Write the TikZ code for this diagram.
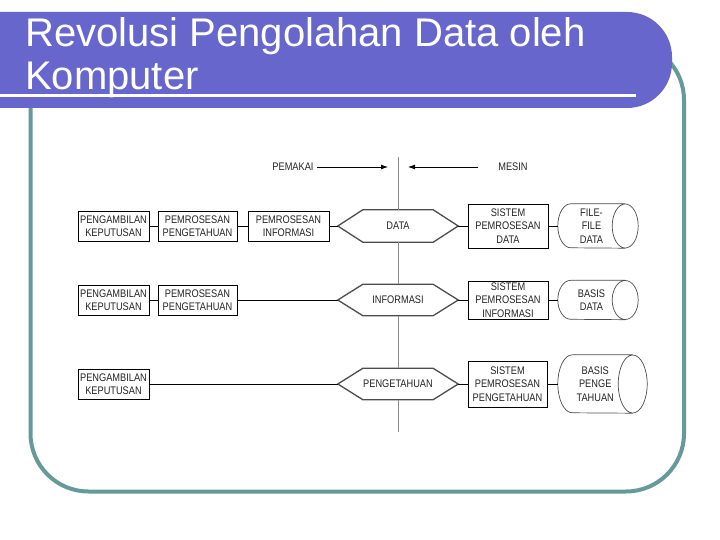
\documentclass[tikz,border=0pt]{standalone}
\usepackage{fontspec}
\setmainfont{Liberation Sans}
\newfontfamily\diagfont[FakeStretch=0.84]{Liberation Sans}
\usetikzlibrary{arrows.meta}

\definecolor{bannerblue}{RGB}{102,102,204}
\definecolor{frameteal}{RGB}{102,153,153}
\definecolor{inkgray}{RGB}{35,35,35}

\tikzset{
	box/.style={draw=black, line width=0.8pt, align=center, inner sep=1pt, text=inkgray, font=\diagfont\fontsize{11}{13.5}\selectfont},
	hexnode/.style={minimum width=120pt, inner sep=0pt, text=inkgray, font=\diagfont\fontsize{11}{13.5}\selectfont},
	hexline/.style={draw=black!70, line width=1.3pt},
	store/.style={align=center, inner sep=0pt, text=inkgray, font=\diagfont\fontsize{11}{13.5}\selectfont},
	storeline/.style={draw=black!70, line width=0.7pt},
	link/.style={draw=black, line width=0.8pt},
	divider/.style={draw=black!45, line width=0.8pt},
	arr/.style={-{Latex[length=7pt,width=5pt]}, line width=0.8pt},
	label/.style={text=inkgray, font=\diagfont\fontsize{11}{13.5}\selectfont}
}

\begin{document}
\begin{tikzpicture}[x=1pt, y=-1pt]
	\useasboundingbox (0,0) rectangle (720,540);
	% frame and title banner
	\draw[frameteal, line width=4pt, rounded corners=58pt] (30.5,42) rectangle (684,491.5);
	\fill[bannerblue] (0,12) [rounded corners=45pt] -- (672,12) -- (672,108) [sharp corners] -- (0,108) -- cycle;
	\draw[white, line width=3pt] (0,95.5) -- (636,95.5);
	\node[anchor=base west, inner sep=0pt, text=white, font=\fontsize{40}{40}\selectfont] (t1) at (25,47) {Revolusi Pengolahan Data oleh};
	\node[anchor=base west, inner sep=0pt, text=white, font=\fontsize{40}{40}\selectfont] (t2) at (25,90) {Komputer};

	% pemakai / mesin
	\node[label] (pemakai) at (293,167) {PEMAKAI};
	\node[label] (mesin) at (513,167) {MESIN};
	\coordinate (gl) at (388,167);
	\coordinate (gr) at (408,167);
	\coordinate (ms) at (478,167);
	\draw[arr] (pemakai) -- (gl);
	\draw[arr] (ms) -- (gr);

	% baris data
	\node[box, minimum width=71pt, minimum height=30pt] (k1) at (113.5,226) {PENGAMBILAN\\KEPUTUSAN};
	\node[box, minimum width=79pt, minimum height=30pt] (p1) at (197.5,226) {PEMROSESAN\\PENGETAHUAN};
	\node[box, minimum width=81pt, minimum height=30pt] (i1) at (288.5,226) {PEMROSESAN\\INFORMASI};
	\node[hexnode, minimum height=32pt] (hd) at (398,226) {DATA};
	\node[box, minimum width=80pt, minimum height=44pt] (s1) at (508,226) {SISTEM\\PEMROSESAN\\DATA};
	\node[store, minimum width=67pt, minimum height=44pt] (c1) at (591.5,226) {FILE-\\FILE\\DATA};

	% baris informasi
	\node[box, minimum width=71pt, minimum height=30pt] (k2) at (113.5,300) {PENGAMBILAN\\KEPUTUSAN};
	\node[box, minimum width=79pt, minimum height=30pt] (p2) at (197.5,300) {PEMROSESAN\\PENGETAHUAN};
	\node[hexnode, minimum height=31pt] (hi) at (398,300) {INFORMASI};
	\node[box, minimum width=80pt, minimum height=38pt] (s2) at (508,300) {SISTEM\\PEMROSESAN\\INFORMASI};
	\node[store, minimum width=67pt, minimum height=39pt] (c2) at (591.5,300) {BASIS\\DATA};

	% baris pengetahuan
	\node[box, minimum width=71pt, minimum height=30pt] (k3) at (113.5,384) {PENGAMBILAN\\KEPUTUSAN};
	\node[hexnode, minimum height=31pt] (hp) at (398,384) {PENGETAHUAN};
	\node[box, minimum width=79pt, minimum height=46pt] (s3) at (507.5,384) {SISTEM\\PEMROSESAN\\PENGETAHUAN};
	\node[store, minimum width=74.5pt, minimum height=58pt] (c3) at (595.25,384) {BASIS\\PENGE\\TAHUAN};

	\foreach \h in {hd,hi,hp}
		\draw[hexline] (\h.west) -- ([xshift=25pt]\h.north west) -- ([xshift=-25pt]\h.north east) -- (\h.east) -- ([xshift=-25pt]\h.south east) -- ([xshift=25pt]\h.south west) -- cycle;

	\foreach \c/\rx/\ry in {c1/13/22, c2/13/19.5, c3/14.5/29}
		\draw[storeline] (\c.north east) -- ([xshift=\rx pt]\c.north west) arc[start angle=90, end angle=270, x radius=\rx pt, y radius=\ry pt] -- (\c.south east)
			(\c.east) ellipse[x radius=\rx pt, y radius=\ry pt];

	% garis
	\coordinate (top) at (398,157);
	\coordinate (bot) at (398,432);
	\draw[divider] (top) -- (hd) (hd) -- (hi) (hi) -- (hp) (hp) -- (bot);
	\draw[link] (k1) -- (p1) (p1) -- (i1) (i1) -- (hd) (hd) -- (s1) (s1) -- (c1);
	\draw[link] (k2) -- (p2) (p2) -- (hi) (hi) -- (s2) (s2) -- (c2);
	\draw[link] (k3) -- (hp) (hp) -- (s3) (s3) -- (c3);
\end{tikzpicture}
\end{document}
